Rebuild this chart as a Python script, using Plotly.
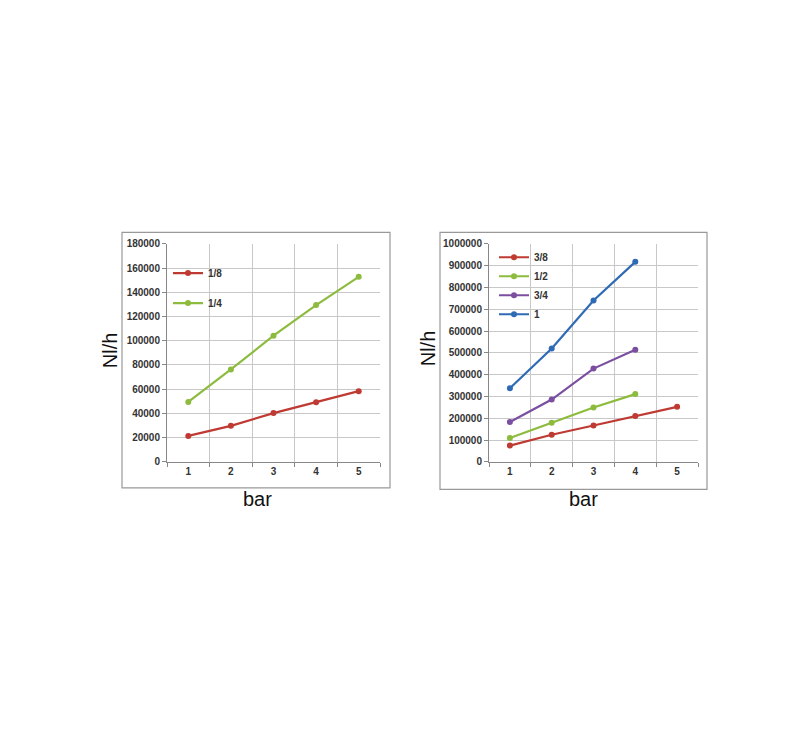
import plotly.graph_objects as go

W, H = 790, 720
OFF = 8  # page body margin

bars = [1, 2, 3, 4, 5]
left_series = {
    "1/8": [21500, 29800, 40300, 49200, 58400],
    "1/4": [49500, 76300, 104200, 129400, 152700],
}
right_series = {
    "3/8": [75000, 125000, 167000, 210500, 252500],
    "1/2": [110000, 180000, 250000, 311000],
    "3/4": [183000, 286000, 428000, 514000],
    "1": [338000, 520000, 740000, 917000],
}
colors = {
    "1/8": "#BE3A32", "1/4": "#8DBB3E",
    "3/8": "#BE3A32", "1/2": "#8DBB3E", "3/4": "#7B4FA0", "1": "#2F6BB5",
}

def px(x):
    return (x - OFF) / W

def py(y):
    return 1 - (y - OFF) / H

fig = go.Figure()
for name, vals in left_series.items():
    fig.add_trace(go.Scatter(x=bars[:len(vals)], y=vals, name=name, mode="lines+markers",
                             line=dict(color=colors[name], width=2.2),
                             marker=dict(size=6, color=colors[name]),
                             xaxis="x", yaxis="y", legend="legend", legendgroup=name))
for name, vals in right_series.items():
    fig.add_trace(go.Scatter(x=bars[:len(vals)], y=vals, name=name, mode="lines+markers",
                             line=dict(color=colors[name], width=2.2),
                             marker=dict(size=6, color=colors[name]),
                             xaxis="x2", yaxis="y2", legend="legend2", legendgroup=name))

tickfont = dict(family="Liberation Sans", size=10, color="#333", weight="bold")
common_x = dict(range=[0.5, 5.5], tickvals=bars, showgrid=False, zeroline=False,
                showline=True, linecolor="#888", linewidth=1, ticks="", tickfont=tickfont,
                minor=dict(tick0=0.5, dtick=1, showgrid=True, gridcolor="#C8C8C8", gridwidth=1,
                           ticks="outside", ticklen=4, tickcolor="#888"),
                fixedrange=True)
common_y = dict(showgrid=True, gridcolor="#C8C8C8", gridwidth=1, zeroline=False,
                showline=True, linecolor="#888", linewidth=1, ticks="outside", ticklen=4,
                tickcolor="#888", tickfont=tickfont, tickformat="d", fixedrange=True)

legfont = dict(family="Liberation Sans", size=10, color="#333", weight="bold")
titlefont = dict(family="Liberation Sans", size=20, color="#111")
fig.update_layout(
    width=W, height=H, margin=dict(l=0, r=0, t=0, b=0),
    paper_bgcolor="white", plot_bgcolor="white",
    xaxis=dict(domain=[px(167), px(380)], anchor="y", **common_x),
    yaxis=dict(domain=[py(463.3), py(242)], anchor="x", range=[0, 180000], dtick=20000, **common_y),
    xaxis2=dict(domain=[px(489), px(698)], anchor="y2", **common_x),
    yaxis2=dict(domain=[py(463.3), py(242)], anchor="x2", range=[0, 1000000], dtick=100000, **common_y),
    legend=dict(x=px(168), y=py(257), xanchor="left", yanchor="top", bgcolor="rgba(0,0,0,0)",
                font=legfont, traceorder="grouped", tracegroupgap=11, itemwidth=30),
    legend2=dict(x=px(494), y=py(241), xanchor="left", yanchor="top", bgcolor="rgba(0,0,0,0)",
                 font=legfont, traceorder="normal", itemwidth=30),
    shapes=[
        dict(type="rect", xref="paper", yref="paper", x0=px(122), x1=px(390), y0=py(489.5), y1=py(230.5),
             line=dict(color="#999", width=1.2)),
        dict(type="rect", xref="paper", yref="paper", x0=px(440), x1=px(707), y0=py(491), y1=py(230.5),
             line=dict(color="#999", width=1.2)),
    ],
    annotations=[
        dict(text="Nl/h", x=px(110), y=py(350), xref="paper", yref="paper", showarrow=False,
             xanchor="center", yanchor="middle", textangle=-90, font=titlefont),
        dict(text="bar", x=px(257), y=py(501), xref="paper", yref="paper", showarrow=False,
             xanchor="center", yanchor="middle", font=titlefont),
        dict(text="Nl/h", x=px(428), y=py(348), xref="paper", yref="paper", showarrow=False,
             xanchor="center", yanchor="middle", textangle=-90, font=titlefont),
        dict(text="bar", x=px(583), y=py(501), xref="paper", yref="paper", showarrow=False,
             xanchor="center", yanchor="middle", font=titlefont),
    ],
)

fig.write_html("out.html")
